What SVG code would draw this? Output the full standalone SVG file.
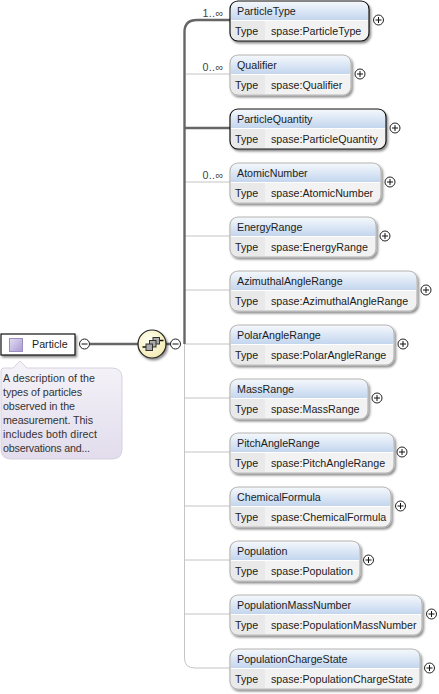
<svg xmlns="http://www.w3.org/2000/svg" width="439" height="694" viewBox="0 0 439 694">
<style>
text{font-family:"Liberation Sans",Arial,sans-serif;font-size:10.7px;fill:#1c1c1c}
.card{fill:#f2f2f2;stroke:#b5b5b5;stroke-width:1.2;filter:url(#sh)}
.card.req{stroke:#111}
.head{fill:url(#hd)}
.col{fill:#e9e9e9}
.div{stroke:#fff;stroke-width:1}
.thin{fill:none;stroke:#c4c4c4;stroke-width:1}
.thick{fill:none;stroke:#666;stroke-width:2.4}
.btn{fill:#fff;stroke:#222;stroke-width:1}
.sign{stroke:#111;stroke-width:1;fill:none}
.desc{font-size:10.7px;fill:#333}
.occ{fill:#444}
</style>
<defs>
<linearGradient id="hd" x1="0" y1="0" x2="0" y2="1"><stop offset="0" stop-color="#f3f7fc"/><stop offset="1" stop-color="#c3d6ee"/></linearGradient>
<linearGradient id="dc" x1="0" y1="0" x2="0" y2="1"><stop offset="0" stop-color="#f5f3f9"/><stop offset="1" stop-color="#e2dcec"/></linearGradient>
<linearGradient id="sw" x1="0" y1="0" x2="1" y2="1"><stop offset="0" stop-color="#e4def4"/><stop offset="1" stop-color="#a999d2"/></linearGradient>
<radialGradient id="ball" cx=".4" cy=".35" r=".7"><stop offset="0" stop-color="#fffff0"/><stop offset="1" stop-color="#f2e9b0"/></radialGradient>
<filter id="sh" x="-10%" y="-20%" width="120%" height="145%"><feDropShadow dx="1.5" dy="2" stdDeviation="1" flood-color="#000" flood-opacity=".45"/></filter>
<g id="plus"><circle class="btn" r="5"/><path class="sign" d="M-3 0H3M0-3V3"/></g>
<g id="minus"><circle class="btn" r="5"/><path class="sign" d="M-3 0H3"/></g>
</defs>

<g id="connectors">
<path class="thin" d="M184.500 128H230M184.500 182H230M184.500 236H230M184.500 290H230M184.500 344H230M184.500 398H230M184.500 452H230M184.500 506H230M184.500 560H230M184.500 614H230M184.500 128V658Q184.500 668 195 668H230"/>
<path class="thin" d="M186 74H230"/>
<path class="thick" d="M90 344H139M164 344H180M184.500 344V32Q184.500 20 197 20H230M184.500 128H230"/>
<text class="occ" x="202.500" y="17" textLength="20.500">1..∞</text>
<text class="occ" x="202.500" y="71" textLength="20.500">0..∞</text>
<text class="occ" x="202.500" y="179" textLength="20.500">0..∞</text>
</g>

<g id="Particle">
<rect x="1" y="334" width="74" height="21" fill="#fff" stroke="#111" stroke-width="1.2" filter="url(#sh)"/>
<rect x="9.500" y="338.500" width="13" height="13" fill="url(#sw)" stroke="#9a8fc0"/>
<text x="32" y="348">Particle</text>
<use href="#minus" x="84.500" y="344"/>
<path d="M4 368H13L20 361L27 368H112Q122 368 122 378V449Q122 459 112 459H11Q1 459 1 449V371Q1 368 4 368Z" fill="url(#dc)" stroke="#d6d2de"/>
<text class="desc" x="3" y="382" textLength="92">A description of the</text>
<text class="desc" x="3" y="396" textLength="79">types of particles</text>
<text class="desc" x="3" y="410" textLength="72">observed in the</text>
<text class="desc" x="3" y="424" textLength="90">measurement. This</text>
<text class="desc" x="3" y="438" textLength="94">includes both direct</text>
<text class="desc" x="3" y="452" textLength="87">observations and...</text>
</g>

<g id="sequence">
<circle cx="152" cy="344" r="14" fill="url(#ball)" stroke="#222" stroke-width="1.2" filter="url(#sh)"/>
<path d="M142.500 347H147M158 340.500H163.500" stroke="#111" stroke-width="1.500" fill="none"/>
<rect x="153" y="337.500" width="6.500" height="6.500" fill="#aaa" stroke="#333"/>
<rect x="149.500" y="340.500" width="6.500" height="6.500" fill="#aaa" stroke="#333"/>
<rect x="146" y="344" width="6.500" height="6.500" fill="#aaa" stroke="#333"/>
<use href="#minus" x="175.500" y="344"/>
</g>

<g id="ParticleType"><rect class="card req" x="230" y="1" width="139" height="40" rx="8"/><path class="head" d="M231 20V9Q231 2 238 2H361Q368 2 368 9V20Z"/><path class="col" d="M231 21H265V40H238Q231 40 231 33Z"/><path class="div" d="M231 20.500H368"/><text x="237" y="15">ParticleType</text><text x="235" y="35">Type</text><text x="271" y="35">spase:ParticleType</text><use href="#plus" x="378.500" y="20"/></g>

<g id="Qualifier"><rect class="card" x="230" y="55" width="121" height="40" rx="8"/><path class="head" d="M231 74V63Q231 56 238 56H343Q350 56 350 63V74Z"/><path class="col" d="M231 75H265V94H238Q231 94 231 87Z"/><path class="div" d="M231 74.500H350"/><text x="237" y="69">Qualifier</text><text x="235" y="89">Type</text><text x="271" y="89">spase:Qualifier</text><use href="#plus" x="360" y="74"/></g>

<g id="ParticleQuantity"><rect class="card req" x="230" y="109" width="156" height="40" rx="8"/><path class="head" d="M231 128V117Q231 110 238 110H378Q385 110 385 117V128Z"/><path class="col" d="M231 129H265V148H238Q231 148 231 141Z"/><path class="div" d="M231 128.500H385"/><text x="237" y="123">ParticleQuantity</text><text x="235" y="143">Type</text><text x="271" y="143">spase:ParticleQuantity</text><use href="#plus" x="395" y="128"/></g>

<g id="AtomicNumber"><rect class="card" x="230" y="163" width="151" height="40" rx="8"/><path class="head" d="M231 182V171Q231 164 238 164H373Q380 164 380 171V182Z"/><path class="col" d="M231 183H265V202H238Q231 202 231 195Z"/><path class="div" d="M231 182.500H380"/><text x="237" y="177">AtomicNumber</text><text x="235" y="197">Type</text><text x="271" y="197">spase:AtomicNumber</text><use href="#plus" x="390" y="182"/></g>

<g id="EnergyRange"><rect class="card" x="230" y="217" width="146" height="40" rx="8"/><path class="head" d="M231 236V225Q231 218 238 218H368Q375 218 375 225V236Z"/><path class="col" d="M231 237H265V256H238Q231 256 231 249Z"/><path class="div" d="M231 236.500H375"/><text x="237" y="231">EnergyRange</text><text x="235" y="251">Type</text><text x="271" y="251">spase:EnergyRange</text><use href="#plus" x="385" y="236"/></g>

<g id="AzimuthalAngleRange"><rect class="card" x="230" y="271" width="187" height="40" rx="8"/><path class="head" d="M231 290V279Q231 272 238 272H409Q416 272 416 279V290Z"/><path class="col" d="M231 291H265V310H238Q231 310 231 303Z"/><path class="div" d="M231 290.500H416"/><text x="237" y="285">AzimuthalAngleRange</text><text x="235" y="305">Type</text><text x="271" y="305">spase:AzimuthalAngleRange</text><use href="#plus" x="426" y="290"/></g>

<g id="PolarAngleRange"><rect class="card" x="230" y="325" width="164" height="40" rx="8"/><path class="head" d="M231 344V333Q231 326 238 326H386Q393 326 393 333V344Z"/><path class="col" d="M231 345H265V364H238Q231 364 231 357Z"/><path class="div" d="M231 344.500H393"/><text x="237" y="339">PolarAngleRange</text><text x="235" y="359">Type</text><text x="271" y="359">spase:PolarAngleRange</text><use href="#plus" x="403" y="344"/></g>

<g id="MassRange"><rect class="card" x="230" y="379" width="138" height="40" rx="8"/><path class="head" d="M231 398V387Q231 380 238 380H360Q367 380 367 387V398Z"/><path class="col" d="M231 399H265V418H238Q231 418 231 411Z"/><path class="div" d="M231 398.500H367"/><text x="237" y="393">MassRange</text><text x="235" y="413">Type</text><text x="271" y="413">spase:MassRange</text><use href="#plus" x="377" y="398"/></g>

<g id="PitchAngleRange"><rect class="card" x="230" y="433" width="164" height="40" rx="8"/><path class="head" d="M231 452V441Q231 434 238 434H386Q393 434 393 441V452Z"/><path class="col" d="M231 453H265V472H238Q231 472 231 465Z"/><path class="div" d="M231 452.500H393"/><text x="237" y="447">PitchAngleRange</text><text x="235" y="467">Type</text><text x="271" y="467">spase:PitchAngleRange</text><use href="#plus" x="402" y="452"/></g>

<g id="ChemicalFormula"><rect class="card" x="230" y="487" width="161" height="40" rx="8"/><path class="head" d="M231 506V495Q231 488 238 488H383Q390 488 390 495V506Z"/><path class="col" d="M231 507H265V526H238Q231 526 231 519Z"/><path class="div" d="M231 506.500H390"/><text x="237" y="501">ChemicalFormula</text><text x="235" y="521">Type</text><text x="271" y="521">spase:ChemicalFormula</text><use href="#plus" x="400.500" y="506"/></g>

<g id="Population"><rect class="card" x="230" y="541" width="130" height="40" rx="8"/><path class="head" d="M231 560V549Q231 542 238 542H352Q359 542 359 549V560Z"/><path class="col" d="M231 561H265V580H238Q231 580 231 573Z"/><path class="div" d="M231 560.500H359"/><text x="237" y="555">Population</text><text x="235" y="575">Type</text><text x="271" y="575">spase:Population</text><use href="#plus" x="368.500" y="560"/></g>

<g id="PopulationMassNumber"><rect class="card" x="230" y="595" width="192" height="40" rx="8"/><path class="head" d="M231 614V603Q231 596 238 596H414Q421 596 421 603V614Z"/><path class="col" d="M231 615H265V634H238Q231 634 231 627Z"/><path class="div" d="M231 614.500H421"/><text x="237" y="609">PopulationMassNumber</text><text x="235" y="629">Type</text><text x="271" y="629">spase:PopulationMassNumber</text><use href="#plus" x="431.500" y="614"/></g>

<g id="PopulationChargeState"><rect class="card" x="230" y="649" width="190" height="40" rx="8"/><path class="head" d="M231 668V657Q231 650 238 650H412Q419 650 419 657V668Z"/><path class="col" d="M231 669H265V688H238Q231 688 231 681Z"/><path class="div" d="M231 668.500H419"/><text x="237" y="663">PopulationChargeState</text><text x="235" y="683">Type</text><text x="271" y="683">spase:PopulationChargeState</text><use href="#plus" x="429.500" y="668"/></g>
</svg>
